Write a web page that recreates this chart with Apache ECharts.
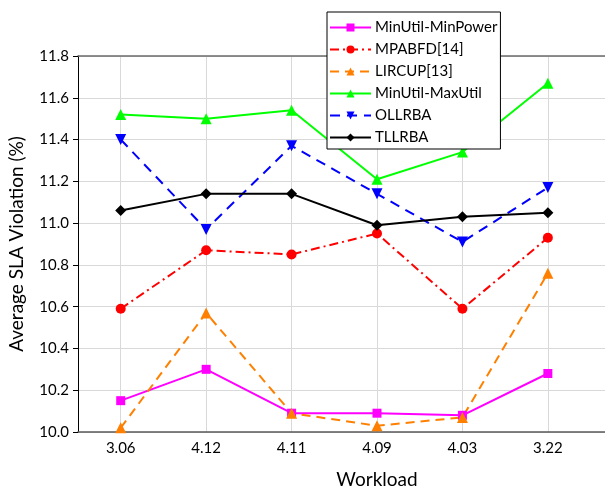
<!DOCTYPE html>
<html>
<head>
<meta charset="utf-8">
<script src="https://cdn.jsdelivr.net/npm/echarts@6/dist/echarts.min.js"></script>
<style>
  html, body { margin: 0; padding: 0; background: #fff; }
  #chart { width: 605px; height: 489px; }
</style>
</head>
<body>
<div id="chart"></div>
<script>
const workloads = ['3.06', '4.12', '4.11', '4.09', '4.03', '3.22']
const minPower = [10.15, 10.30, 10.09, 10.09, 10.08, 10.28]
const mpabfd = [10.59, 10.87, 10.85, 10.95, 10.59, 10.93]
const lircup = [10.02, 10.57, 10.09, 10.03, 10.07, 10.76]
const maxUtil = [11.52, 11.50, 11.54, 11.21, 11.34, 11.67]
const ollrba = [11.40, 10.97, 11.37, 11.14, 10.91, 11.17]
const tllrba = [11.06, 11.14, 11.14, 10.99, 11.03, 11.05]

const font = 'Lato, "Open Sans", sans-serif'

// the original plot runs off the right edge, so one empty slot is added
const axisData = workloads.concat([''])

function initSeries(name, data, color, symbol, size, dash) {
  return {
    name,
    data,
    type: 'line',
    symbol,
    symbolSize: size,
    lineStyle: {
      width: 2,
      color,
      type: dash
    },
    itemStyle: {
      color
    }
  }
}

const chart = echarts.init(document.getElementById('chart'))

const series = [
  initSeries('MinUtil-MinPower', minPower, '#ff00ff', 'rect', 9, 'solid'),
  initSeries('MPABFD[14]', mpabfd, '#ff0000', 'circle', 10, [9, 4, 2, 4]),
  initSeries('LIRCUP[13]', lircup, '#ff8000', 'triangle', 11, [9, 6]),
  initSeries('MinUtil-MaxUtil', maxUtil, '#00ff00', 'triangle', 11, 'solid'),
  initSeries('OLLRBA', ollrba, '#0000ff', 'path://M0,0 L10,0 L5,9 Z', 11, [10, 7]),
  initSeries('TLLRBA', tllrba, '#000000', 'path://M5,0 L10,5 L5,10 L0,5 Z', 11, 'solid')
]

const option = {
  animation: false,
  textStyle: { fontFamily: font },
  grid: {
    left: 78,
    top: 56,
    width: 598,
    bottom: 57,
    outerBoundsMode: 'none'
  },
  legend: {
    orient: 'vertical',
    left: 327,
    top: 12,
    padding: [8, 3, 4, 2],
    itemGap: 7,
    itemWidth: 41,
    itemHeight: 10,
    backgroundColor: '#fff',
    borderColor: '#000',
    borderWidth: 1,
    textStyle: {
      fontFamily: font,
      fontSize: 15,
      color: '#000',
      padding: [0, 0, 0, -1]
    },
    data: series.map(s => s.name)
  },
  xAxis: [{
    type: 'category',
    data: axisData,
    name: 'Workload',
    nameLocation: 'middle',
    nameGap: 38,
    nameTextStyle: { fontSize: 19, color: '#000', fontFamily: font },
    axisLine: { lineStyle: { color: '#595959', width: 1.5 } },
    axisTick: { alignWithLabel: true, length: 5, lineStyle: { color: '#000' } },
    axisLabel: { fontSize: 15, color: '#000', margin: 9 },
    splitLine: { show: true, alignWithLabel: true, lineStyle: { color: '#d9d9d9' } }
  }, {
    type: 'category',
    position: 'top',
    data: axisData,
    axisLine: { lineStyle: { color: '#6b6b6b', width: 1.5 } },
    axisTick: { alignWithLabel: true, inside: true, length: 5, lineStyle: { color: '#000' } },
    axisLabel: { show: false },
    splitLine: { show: false }
  }],
  yAxis: {
    type: 'value',
    min: 10,
    max: 11.8,
    interval: 0.2,
    name: 'Average SLA Violation (%)',
    nameLocation: 'middle',
    nameGap: 52,
    nameTextStyle: { fontSize: 19, color: '#000', fontFamily: font },
    axisLine: { show: true, lineStyle: { color: '#000', width: 1 } },
    axisTick: { show: true, length: 5, lineStyle: { color: '#000' } },
    axisLabel: {
      fontSize: 15,
      color: '#000',
      margin: 9,
      formatter: v => v.toFixed(1)
    },
    splitLine: { lineStyle: { color: '#d9d9d9' } }
  },
  series
}

chart.setOption(option)
</script>
</body>
</html>
